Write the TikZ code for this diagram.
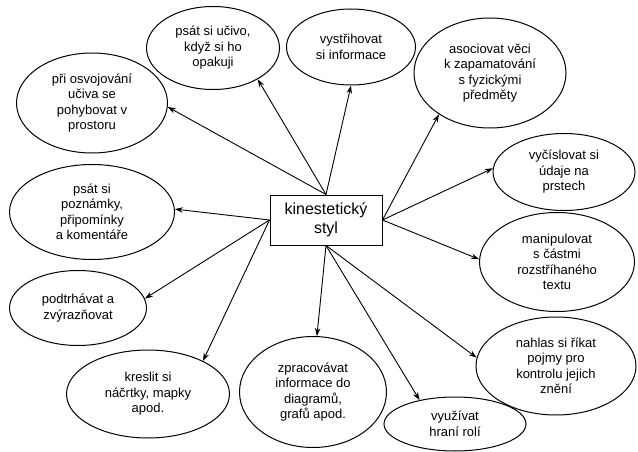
\documentclass[tikz,border=0pt]{standalone}
\usepackage{fontspec}
\setmainfont{Liberation Sans}
\usetikzlibrary{shapes.geometric,arrows.meta}
\begin{document}
\begin{tikzpicture}[x=1pt,y=-1pt,
  bub/.style={draw, ellipse, line width=1pt, inner sep=0pt, align=center, font=\fontsize{13}{15.5}\selectfont},
  hub/.style={draw, rectangle, line width=1pt, minimum width=112pt, minimum height=50pt, align=center, font=\fontsize{16}{19}\selectfont},
  arr/.style={line width=0.9pt, -{Stealth[length=8pt,width=5.5pt]}}]
\useasboundingbox (0,0) rectangle (638,452);
\node[hub] (c) at (326,220) {kinestetický\\styl};
\node[bub, minimum width=133pt, minimum height=83pt] (e1) at (213,48) {psát si učivo,\\když si ho\\opakuji};
\node[bub, minimum width=129pt, minimum height=76pt] (e2) at (351,47) {vystřihovat\\si informace};
\node[bub, minimum width=152pt, minimum height=110pt] (e3) at (490,73) {asociovat věci\\k zapamatování\\s fyzickými\\předměty};
\node[bub, minimum width=142pt, minimum height=77pt] (e4) at (564,172) {vyčíslovat si\\údaje na\\prstech};
\node[bub, minimum width=155pt, minimum height=99pt] (e5) at (557,262) {manipulovat\\s částmi\\rozstříhaného\\textu};
\node[bub, minimum width=160pt, minimum height=98pt] (e6) at (556,366) {nahlas si říkat\\pojmy pro\\kontrolu jejich\\znění};
\node[bub, minimum width=142pt, minimum height=54pt] (e7) at (455,424) {využívat\\hraní rolí};
\node[bub, minimum width=147pt, minimum height=111pt] (e8) at (313,392) {zpracovávat\\informace do\\diagramů,\\grafů apod.};
\node[bub, minimum width=163pt, minimum height=88pt] (e9) at (148,394) {kreslit si\\náčrtky, mapky\\apod.};
\node[bub, minimum width=137pt, minimum height=75pt] (e10) at (78,308) {podtrhávat a\\zvýrazňovat};
\node[bub, minimum width=165pt, minimum height=95pt] (e11) at (92,212) {psát si\\poznámky,\\připomínky\\a komentáře};
\node[bub, minimum width=151pt, minimum height=100pt] (e12) at (92,103) {při osvojování\\učiva se\\pohybovat v\\prostoru};
\draw[arr] (c.north) -- (e1.-35);
\draw[arr] (c.north) -- (e12.-3);
\draw[arr] (c.north) -- (e2.-90);
\draw[arr] (c.east) -- (e3.-141);
\draw[arr] (c.east) -- (e4.177);
\draw[arr] (c.east) -- (e5.178);
\draw[arr] (c.south) -- (e6.174);
\draw[arr] (c.south) -- (e7.146);
\draw[arr] (c.south) -- (e8.86);
\draw[arr] (c.west) -- (e9.31);
\draw[arr] (c.west) -- (e10.8);
\draw[arr] (c.west) -- (e11.2);
\end{tikzpicture}
\end{document}
